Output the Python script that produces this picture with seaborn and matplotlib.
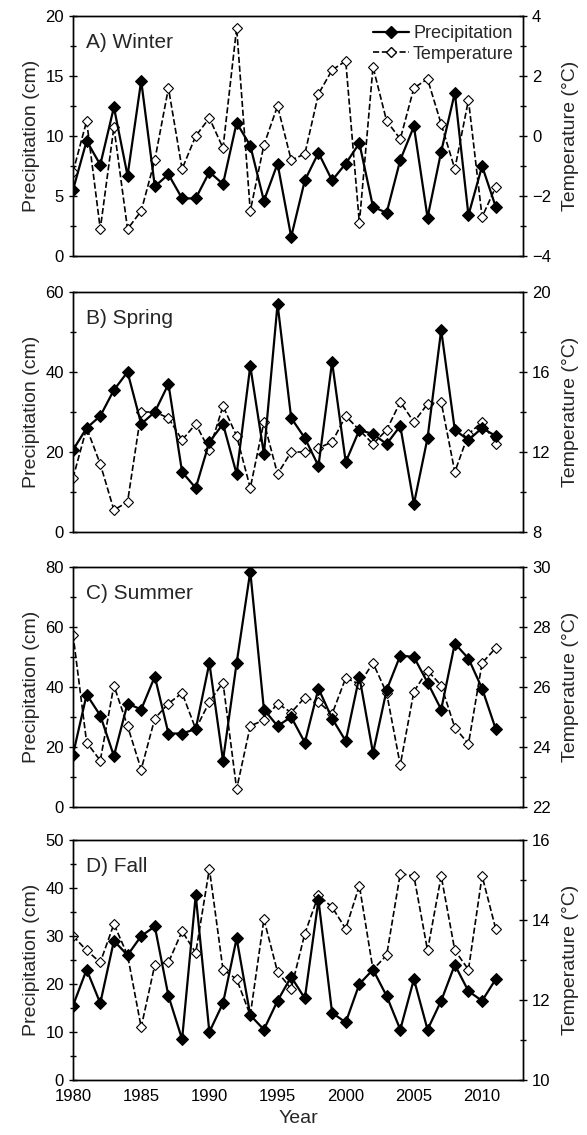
import numpy as np
import pandas as pd
import matplotlib
matplotlib.use('Agg')
import matplotlib.pyplot as plt
import seaborn as sns
from matplotlib.lines import Line2D

sns.set_style('white')
plt.rcParams['font.family'] = ['Liberation Sans', 'DejaVu Sans']

years = list(range(1980, 2012))

winter_precip = [5.5, 9.6, 7.6, 12.4, 6.7, 14.6, 5.8, 6.8, 4.8, 4.8, 7.0, 6.0, 11.1, 9.2, 4.6, 7.7,
                 1.6, 6.3, 8.6, 6.3, 7.7, 9.4, 4.1, 3.6, 8.0, 10.8, 3.2, 8.7, 13.6, 3.4, 7.5, 4.1]
winter_temp = [-1.2, 0.5, -3.1, 0.3, -3.1, -2.5, -0.8, 1.6, -1.1, 0.0, 0.6, -0.4, 3.6, -2.5, -0.3, 1.0,
               -0.8, -0.6, 1.4, 2.2, 2.5, -2.9, 2.3, 0.5, -0.1, 1.6, 1.9, 0.4, -1.1, 1.2, -2.7, -1.7]

spring_precip = [20.5, 26, 29, 35.5, 40, 27, 30, 37, 15, 11, 22.5, 27, 14.5, 41.5, 19.5, 57,
                 28.5, 23.5, 16.5, 42.5, 17.5, 25.5, 24.5, 22, 26.5, 7, 23.5, 50.5, 25.5, 23, 26, 24]
spring_temp = [10.7, 13.2, 11.4, 9.1, 9.5, 14.0, 14.0, 13.7, 12.6, 13.4, 12.1, 14.3, 12.8, 10.2, 13.5, 10.9,
               12.0, 12.0, 12.2, 12.5, 13.8, 13.1, 12.4, 13.1, 14.5, 13.5, 14.4, 14.5, 11.0, 12.9, 13.5, 12.4]

summer_precip = [17.5, 37.5, 30.5, 17, 34.5, 32.5, 43.5, 24.5, 24.5, 26, 48, 15.5, 48, 78.5, 32.5, 27,
                 30, 21.5, 39.5, 29.5, 22, 43.5, 18, 39, 50.5, 50, 41.5, 32.5, 54.5, 49.5, 39.5, 26]
summer_temp = [27.75, 24.15, 23.55, 26.05, 24.7, 23.25, 24.95, 25.45, 25.8, 24.6, 25.5, 26.15, 22.6, 24.7, 24.9, 25.45,
               25.15, 25.65, 25.5, 25.1, 26.3, 26.1, 26.8, 25.8, 23.4, 25.85, 26.55, 26.05, 24.65, 24.1, 26.8, 27.3]

fall_precip = [15.5, 23, 16, 29, 26, 30, 32, 17.5, 8.5, 38.5, 10, 16, 29.5, 13.5, 10.5, 16.5,
               21.5, 17, 37.5, 14, 12, 20, 23, 17.5, 10.5, 21, 10.5, 16.5, 24, 18.5, 16.5, 21]
fall_temp = [13.6, 13.24, 12.94, 13.9, 13.12, 11.32, 12.88, 12.94, 13.72, 13.18, 15.28, 12.76, 12.52, 11.62, 14.02, 12.7,
             12.28, 13.66, 14.62, 14.32, 13.78, 14.86, 12.76, 13.12, 15.16, 15.1, 13.24, 15.1, 13.24, 12.76, 15.1, 13.78]

# title, precip, temp, precip range, precip step, temp range, temp step
panels = [
    ('A) Winter', winter_precip, winter_temp, (0, 20), 5, (-4, 4), 2),
    ('B) Spring', spring_precip, spring_temp, (0, 60), 20, (8, 20), 4),
    ('C) Summer', summer_precip, summer_temp, (0, 80), 20, (22, 30), 2),
    ('D) Fall', fall_precip, fall_temp, (0, 50), 10, (10, 16), 2),
]

fig = plt.figure(figsize=(5.87, 11.35), dpi=100)
tops = [16, 292, 567, 840]
height = 240
left, right = 73, 523
W, H = 587, 1135

for i, (title, precip, temp, plim, pstep, tlim, tstep) in enumerate(panels):
    ax = fig.add_axes([left / W, 1 - (tops[i] + height) / H, (right - left) / W, height / H])
    df = pd.DataFrame({'year': years, 'precip': precip, 'temp': temp})
    ax2 = ax.twinx()
    sns.lineplot(data=df, x='year', y='temp', ax=ax2, color='black', linestyle='--', lw=1.2,
                 marker='D', markersize=5, markerfacecolor='white', markeredgecolor='black',
                 markeredgewidth=0.8)
    sns.lineplot(data=df, x='year', y='precip', ax=ax, color='black', lw=1.6,
                 marker='D', markersize=6, markerfacecolor='black', markeredgecolor='black')
    ax.set_zorder(ax2.get_zorder() + 1)
    ax.patch.set_visible(False)

    ax.set_xlim(1980, 2013)
    ax.set_ylim(*plim)
    ax2.set_ylim(*tlim)
    ax.set_yticks(np.arange(plim[0], plim[1] + 0.1, pstep))
    ax.set_yticks(np.arange(plim[0], plim[1] + 0.1, pstep / 2), minor=True)
    ax2.set_yticks(np.arange(tlim[0], tlim[1] + 0.1, tstep))
    ax2.set_yticks(np.arange(tlim[0], tlim[1] + 0.1, tstep / 2), minor=True)
    ax.set_xticks(range(1980, 2013, 5))
    for a in (ax, ax2):
        for s in a.spines.values():
            s.set_color('black')
            s.set_linewidth(1.0)
        a.tick_params(which='both', direction='inout', length=6, width=1, labelsize=12, colors='black')
        a.tick_params(which='minor', length=5)
    ax.set_ylabel('Precipitation (cm)', fontsize=14)
    ax2.set_ylabel('Temperature (°C)', fontsize=14, labelpad=8)
    ax.set_xlabel('')
    ax.text(0.03, 0.93, title, transform=ax.transAxes, fontsize=15, va='top')
    if i < 3:
        ax.set_xticklabels([])
    else:
        ax.set_xlabel('Year', fontsize=14)
    if i == 0:
        handles = [
            Line2D([], [], color='black', lw=1.6, marker='D', markersize=6),
            Line2D([], [], color='black', lw=1.2, ls='--', marker='D', markersize=5,
                   markerfacecolor='white'),
        ]
        ax.legend(handles, ['Precipitation', 'Temperature'], loc='upper right', frameon=False,
                  fontsize=13, handlelength=2.0, handletextpad=0.2, borderaxespad=0.1,
                  labelspacing=0.2)

fig.savefig('out.png', dpi=100)
